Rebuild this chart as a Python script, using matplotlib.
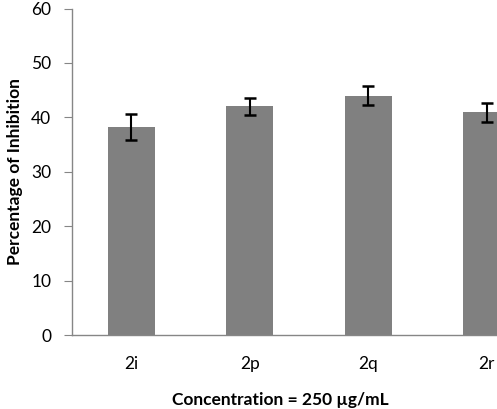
import matplotlib
matplotlib.use("Agg")
import matplotlib.pyplot as plt
import numpy as np

compounds = ["2i", "2p", "2q", "2r"]
inhibition = [38.3, 42.0, 44.0, 40.9]
errors = [2.4, 1.55, 1.8, 1.75]

plt.rcParams["font.family"] = ["Lato", "DejaVu Sans"]

fig = plt.figure(figsize=(4.97, 4.09), dpi=100)
# axes run past the right edge, as in the cropped original
ax = fig.add_axes([72 / 497, (409 - 335) / 409, 474 / 497, 326.5 / 409])

x = np.arange(len(compounds))
ax.bar(x, inhibition, width=0.4, color="#808080", zorder=2)
ax.errorbar(x, inhibition, yerr=errors, fmt="none", ecolor="black",
            elinewidth=1.5, capsize=4, capthick=1.8, zorder=3)

ax.set_xlim(-0.5, 3.5)
ax.set_ylim(0, 60)
ax.set_yticks(range(0, 61, 10))
ax.set_xticks(x)
ax.set_xticklabels(compounds)

for side in ("top", "right"):
    ax.spines[side].set_visible(False)
for side in ("left", "bottom"):
    ax.spines[side].set_color("#868686")
    ax.spines[side].set_linewidth(1)

ax.tick_params(axis="y", direction="out", length=6, color="#868686",
               pad=9, labelsize=12.5)
ax.tick_params(axis="x", length=0, pad=15, labelsize=12.5)

ax.set_ylabel("Percentage of Inhibition", fontsize=12.5, fontweight="bold")
ax.yaxis.set_label_coords(-57 / 474, 0.5)
ax.set_xlabel("Concentration = 250 \u00b5g/mL", fontsize=12.5, fontweight="bold")
ax.xaxis.set_label_coords((280 - 72) / 474, -65 / 326.5)
ax.xaxis.label.set_va("center")
ax.yaxis.label.set_va("center")

fig.savefig("out.png", dpi=100)
